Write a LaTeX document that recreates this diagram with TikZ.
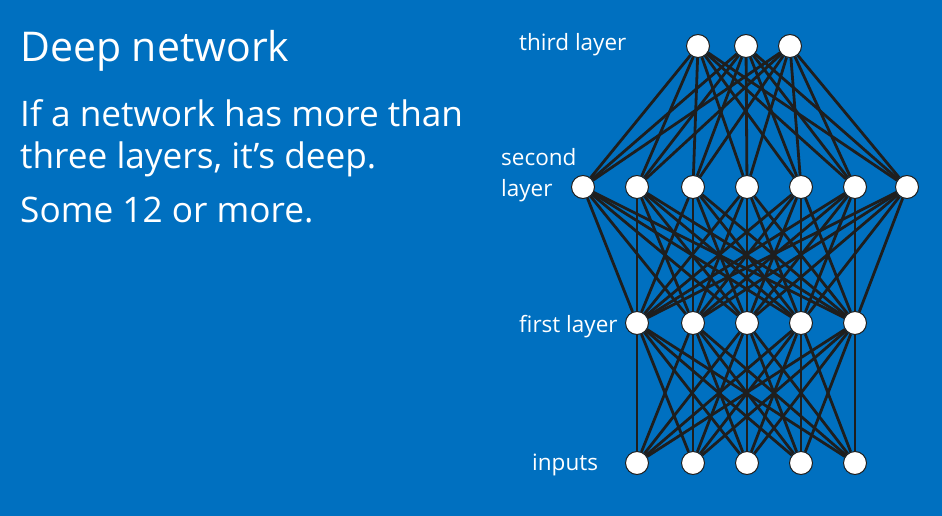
\documentclass[tikz,border=0pt]{standalone}
\usepackage{fontspec}
\setmainfont{Open Sans}
\definecolor{bgblue}{RGB}{0,112,192}
\definecolor{edgecol}{RGB}{30,30,30}
\begin{document}
\begin{tikzpicture}[x=1pt,y=-1pt,
  neuron/.style={circle,fill=white,draw=edgecol,line width=1pt,minimum size=23pt,inner sep=0pt},
  link/.style={draw=edgecol,line width=2.8pt},
  lbl/.style={text=white,anchor=base west,inner sep=0pt,font=\fontsize{22.5}{25}\selectfont},
  ttl/.style={text=white,anchor=base west,inner sep=0pt}]
\fill[bgblue] (0,0) rectangle (942,516);
\useasboundingbox (0,0) rectangle (942,516);
% text
\node[ttl,font=\fontsize{41}{48}\selectfont] (title) at (20,62) {Deep network};
\node[ttl,font=\fontsize{35.2}{40}\selectfont] (l1) at (20,127) {If a network has more than};
\node[ttl,font=\fontsize{35.2}{40}\selectfont] (l2) at (20,168) {three layers, it’s deep.};
\node[ttl,font=\fontsize{35.2}{40}\selectfont] (l3) at (20,222) {Some 12 or more.};
% layer labels
\node[lbl] (lt) at (519,51) {third layer};
\node[lbl] (ls1) at (501,165) {second};
\node[lbl] (ls2) at (501,196) {layer};
\node[lbl] (lf) at (519,332) {first layer};
\node[lbl] (li) at (532,470) {inputs};
% neurons
\foreach \i/\x in {1/698,2/746,3/790} \node[neuron] (t\i) at (\x,46) {};
\foreach \i/\x in {1/583,2/637,3/693,4/747,5/801,6/855,7/907} \node[neuron] (s\i) at (\x,187) {};
\foreach \i/\x in {1/637,2/693,3/747,4/801,5/855} \node[neuron] (f\i) at (\x,323) {};
\foreach \i/\x in {1/637,2/693,3/747,4/801,5/855} \node[neuron] (n\i) at (\x,463) {};
% links
\foreach \a in {1,2,3} \foreach \b in {1,...,7} \draw[link] (t\a) -- (s\b);
\foreach \a in {1,...,7} \foreach \b in {1,...,5} \draw[link] (s\a) -- (f\b);
\foreach \a in {1,...,5} \foreach \b in {1,...,5} \draw[link] (f\a) -- (n\b);
\end{tikzpicture}
\end{document}
